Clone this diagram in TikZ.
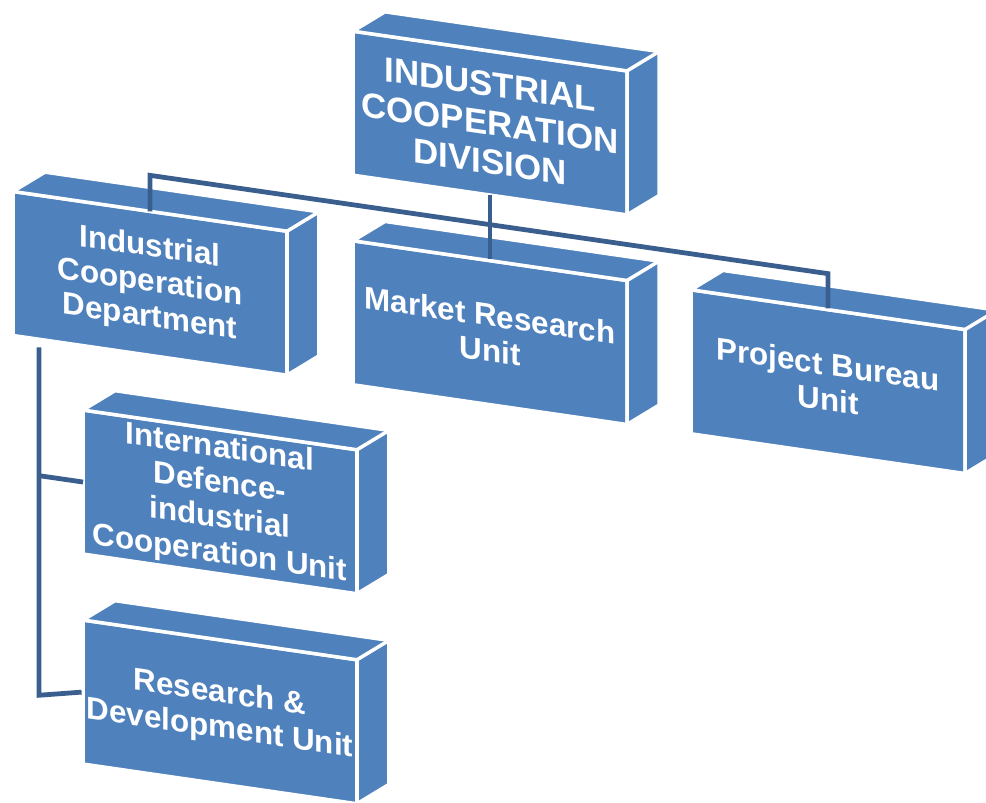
\documentclass[tikz,border=0pt]{standalone}
\usepackage{fontspec}
\setmainfont{Liberation Sans}
\usetikzlibrary{calc}

\definecolor{unitblue}{RGB}{79,129,189}
\definecolor{linkblue}{RGB}{58,95,142}

% top and right faces of a unit box
\newcommand\boxfaces[1]{%
  \fill[unitblue, draw=white, line width=2.5pt]
    (#1.north west) -- ++(0.8,0.6) -- ($(#1.north east)+(0.8,0.6)$)
    -- ($(#1.south east)+(0.8,0.6)$) -- (#1.south east) -- (#1.north east) -- cycle;
  \draw[white, line width=2.5pt] (#1.north east) -- ++(0.8,0.6);
}

\begin{document}
\begin{tikzpicture}[every node/.style={rectangle, draw=white, fill=unitblue, line width=2.5pt,
                      text=white, font=\bfseries\fontsize{22.3}{25}\selectfont, align=center,
                      minimum width=6.85cm, minimum height=3.6cm, inner sep=0pt, outer sep=0pt,
                      transform shape},
                    link/.style={draw=linkblue, line width=3.4pt, shorten >=1pt}]

                    \useasboundingbox (0,0) rectangle (24.65,-20.075);

                    \begin{scope}[yslant=-0.145]
                    % Define nodes (front faces)
                    \node[font=\bfseries\fontsize{24.8}{27.5}\selectfont] (Div) at (12.25,-1.3) {INDUSTRIAL\\COOPERATION\\DIVISION}; % Root node
                    \node (Dept) at (3.75,-6.54) {Industrial\\Cooperation\\Department}; % Child of Div
                    \node (Market) at (12.25,-6.54) {Market Research\\Unit}; % Child of Div
                    \node (Bureau) at (20.7,-6.54) {Project Bureau\\Unit}; % Child of Div
                    \node (Intl) at (5.5,-11.75) {International\\Defence-\\industrial\\Cooperation Unit}; % Child of Dept
                    \node (RnD) at (5.5,-17.0) {Research \&\\Development Unit}; % Child of Dept

                    % Top and side faces
                    \foreach \n in {Div,Dept,Market,Bureau,Intl,RnD} {\boxfaces{\n}}

                    % Define edges
                    \path[link] (Dept.north) -- ++(0,0.9) -- ++(16.95,0) -- (Bureau.north);
                    \path[link] (Div.south) -- (Market.north);
                    \coordinate (trunk) at ($(Dept.south west)+(0.65,-0.2)$);
                    \path[link] (trunk) -- ++(0,-8.7) -- (RnD.west);
                    \path[link] (Intl.west) -- ++(-1.1,0);
                    \end{scope}
                \end{tikzpicture}
\end{document}
